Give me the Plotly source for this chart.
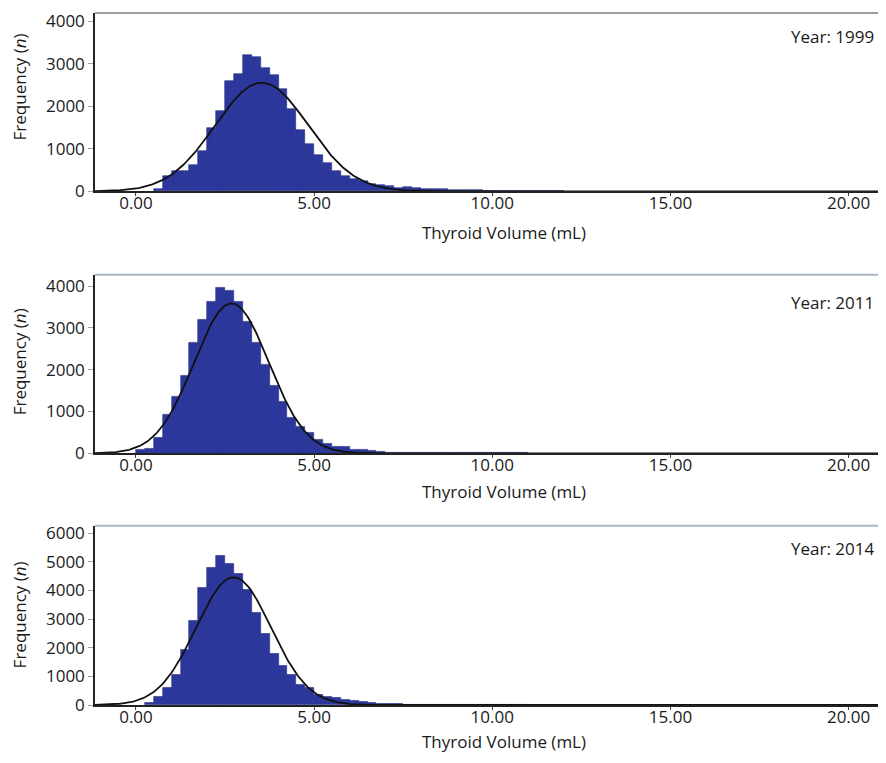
import numpy as np
import plotly.graph_objects as go

# ---------------- data ----------------
bin_width = 0.25

years = ["1999", "2011", "2014"]

start_1999 = 0.5
counts_1999 = [60, 359, 476, 476, 624, 959, 1489, 1895, 2596, 2752, 3205, 3166,
               2908, 2737, 2417, 1942, 1443, 1115, 865, 663, 476, 367, 296, 242,
               179, 140, 117, 86, 101, 78, 62, 50, 45, 40, 30, 25, 20, 15,
               10, 8, 6, 5, 4, 3, 3, 2]

start_2011 = 0.0
counts_2011 = [79, 103, 372, 926, 1346, 1861, 2637, 3207, 3618, 3975, 3895, 3618,
               3143, 2637, 2122, 1607, 1227, 855, 633, 499, 333, 238, 158, 158,
               95, 79, 55, 35, 25, 20, 18, 15, 12, 10, 10, 8, 8, 6, 6, 5, 5, 5, 4, 4]

start_2014 = 0.25
counts_2014 = [69, 300, 590, 1052, 1919, 2925, 4081, 4809, 5214, 4925, 4578, 4023,
               3225, 2474, 1803, 1376, 1052, 705, 590, 358, 277, 243, 185, 150,
               116, 80, 55, 40, 30, 25, 20, 18, 15, 12, 10, 10, 8, 8, 6, 6, 5, 5, 5]

# fitted normal curves: mean, sd, peak height (counts)
normal_1999 = (3.53, 1.31, 2557)
normal_2011 = (2.68, 1.05, 3587)
normal_2014 = (2.74, 1.05, 4462)

x_tickvals = [0, 5, 10, 15, 20]
x_ticktext = ["0.00", "5.00", "10.00", "15.00", "20.00"]
y_max = [4200, 4275, 6260]

# ---------------- geometry ----------------
# page body has an 8px margin, so the figure is drawn 8px smaller and
# every reference position is shifted by -8px
OFF = 8
W, H = 886 - OFF, 763 - 2 * OFF
panel_ref = [(8, 187.7), (271.7, 451.7), (524.7, 705.3)]  # (top, bottom) in page px
panel_px = [(t - OFF, b - OFF) for (t, b) in panel_ref]
ml = 95 - OFF
mr = 0
mt = panel_px[0][0]
mb = H - panel_px[2][1]
ph = H - mt - mb
pw = W - ml - mr


def py2paper(py):
    return (H - mb - py) / ph


def px2paper(px):
    return (px - OFF - ml) / pw


domains = [[py2paper(b), py2paper(t)] for (t, b) in panel_px]

starts = [start_1999, start_2011, start_2014]
counts = [counts_1999, counts_2011, counts_2014]
normals = [normal_1999, normal_2011, normal_2014]

FONT = "'Open Sans', sans-serif"
FS = 17
TXT = "#1a1a1a"
BAR_FILL = "#2C379E"
BAR_LINE = "#25307F"

fig = go.Figure()
curve_x = np.linspace(-1.2, 21.1, 600)

for i in range(3):
    xa = "x" if i == 0 else f"x{i + 1}"
    ya = "y" if i == 0 else f"y{i + 1}"
    c = counts[i]
    centers = [starts[i] + bin_width * (k + 0.5) for k in range(len(c))]
    fig.add_trace(go.Bar(
        x=centers, y=c, width=bin_width, xaxis=xa, yaxis=ya,
        marker=dict(color=BAR_FILL, line=dict(color=BAR_LINE, width=0.6)),
        showlegend=False, hoverinfo="x+y",
    ))
    mu, sd, pk = normals[i]
    fig.add_trace(go.Scatter(
        x=curve_x, y=pk * np.exp(-0.5 * ((curve_x - mu) / sd) ** 2),
        mode="lines", line=dict(color="#111111", width=1.8),
        xaxis=xa, yaxis=ya, showlegend=False, hoverinfo="skip",
    ))

layout = dict(
    width=W, height=H,
    margin=dict(l=ml, r=mr, t=mt, b=mb, pad=0),
    paper_bgcolor="white", plot_bgcolor="white",
    font=dict(family=FONT, size=FS, color=TXT),
    bargap=0,
)

for i in range(3):
    xk = "xaxis" if i == 0 else f"xaxis{i + 1}"
    yk = "yaxis" if i == 0 else f"yaxis{i + 1}"
    ya = "y" if i == 0 else f"y{i + 1}"
    xa = "x" if i == 0 else f"x{i + 1}"
    layout[xk] = dict(
        domain=[0, 1], anchor=ya, range=[-1.15, 21.05],
        tickvals=x_tickvals, ticktext=x_ticktext,
        showline=True, linecolor="#222222", linewidth=1.5,
        ticks="outside", ticklen=3, tickcolor="#444444",
        ticklabelstandoff=-7,
        showgrid=False, zeroline=False,
        tickfont=dict(family=FONT, size=FS, color=TXT),
    )
    layout[yk] = dict(
        domain=domains[i], anchor=xa, range=[0, y_max[i]],
        dtick=1000, tickformat="d",
        showline=True, linecolor="#222222", linewidth=1.5,
        ticks="outside", ticklen=5, tickcolor="#9aa5b0",
        showgrid=False, zeroline=False,
        tickfont=dict(family=FONT, size=FS, color=TXT),
    )

fig.update_layout(**layout)

# top borders
top_colors = ["#3a3a3a", "#a9b7c5", "#a9b7c5"]
top_widths = [1.2, 2, 2]
for i in range(3):
    yref = "y domain" if i == 0 else f"y{i + 1} domain"
    fig.add_shape(type="line", xref="paper", yref=yref, x0=0, x1=1, y0=1, y1=1,
                  line=dict(color=top_colors[i], width=top_widths[i]))

# annotations: year labels, axis titles (positions given in page px)
year_center_ref = [32, 300, 548]
ytitle_center_ref = [83, 360, 615]
xtitle_gap = [41, 38, 37]
for i in range(3):
    fig.add_annotation(text=f"Year: {years[i]}", xref="paper", yref="paper",
                       x=px2paper(876), y=py2paper(year_center_ref[i] - OFF),
                       xanchor="right", yanchor="middle", showarrow=False,
                       font=dict(family=FONT, size=FS, color=TXT))
    fig.add_annotation(text="Frequency (<i>n</i>)", xref="paper", yref="paper",
                       x=px2paper(19), y=py2paper(ytitle_center_ref[i] - OFF),
                       textangle=-90, xanchor="center", yanchor="middle",
                       showarrow=False, font=dict(family=FONT, size=FS, color=TXT))
    fig.add_annotation(text="Thyroid Volume (mL)", xref="paper", yref="paper",
                       x=px2paper(504), y=py2paper(panel_px[i][1] + xtitle_gap[i]),
                       xanchor="center", yanchor="middle", showarrow=False,
                       font=dict(family=FONT, size=FS, color=TXT))

fig.write_html("out.html")
